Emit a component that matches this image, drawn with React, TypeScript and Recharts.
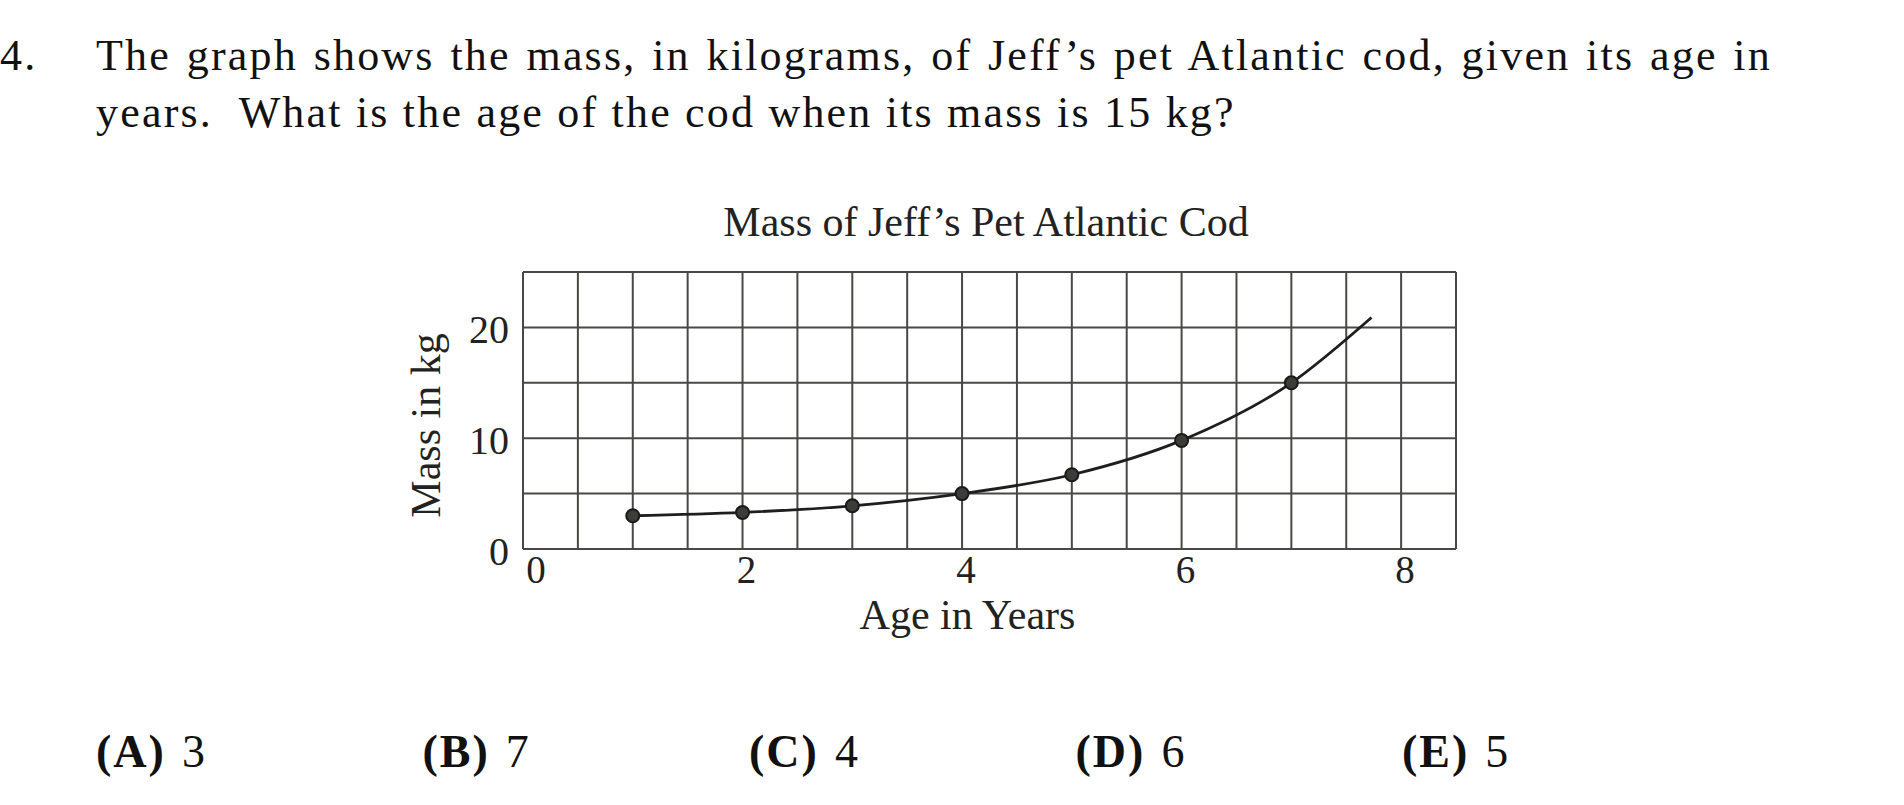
import React from "react";
import { LineChart, Line, XAxis, YAxis, CartesianGrid, Label } from "recharts";

// cod growth curve (last point = end of the drawn curve, no dot)
const ages = [1, 2, 3, 4, 5, 6, 7, 7.73];
const masses = [3.0, 3.3, 3.9, 5.0, 6.7, 9.8, 15, 20.9];
const DOT_COUNT = 7;

const xTicks = [0, 0.5, 1, 1.5, 2, 2.5, 3, 3.5, 4, 4.5, 5, 5.5, 6, 6.5, 7, 7.5, 8, 8.5];
const xLabels = [0, 2, 4, 6, 8];
const yTicks = [0, 5, 10, 15, 20, 25];
const yLabels = [0, 10, 20];

const answerLetters = ["A", "B", "C", "D", "E"];
const answerValues = ["3", "7", "4", "6", "5"];

const data = ages.map((age, i) => ({ age, mass: masses[i], marked: i < DOT_COUNT }));

const SERIF = "'Liberation Serif', 'Times New Roman', serif";
const GRID = "#484846";

function XTick(props: any) {
  const { x, y, payload } = props;
  if (!xLabels.includes(payload.value)) return <g />;
  const dx = payload.value === 0 ? 13 : 4;
  return (
    <text x={x + dx} y={y + 32} textAnchor="middle" fontSize={39} fontFamily={SERIF} fill="#222">
      {payload.value}
    </text>
  );
}

function YTick(props: any) {
  const { x, y, payload } = props;
  if (!yLabels.includes(payload.value)) return <g />;
  return (
    <text x={x - 12} y={y + 16} textAnchor="end" fontSize={40} fontFamily={SERIF} fill="#222">
      {payload.value}
    </text>
  );
}

function CodDot(props: any) {
  const { cx, cy, payload, index } = props;
  if (!payload.marked) return <g key={`d-${index}`} />;
  return <circle key={`d-${index}`} cx={cx} cy={cy} r={6.5} fill="#3b3d39" stroke="#1a1a1a" strokeWidth={2} />;
}

function CodChart() {
  return (
    <LineChart
      width={1140}
      height={470}
      data={data}
      margin={{ top: 92, right: 44, bottom: 41, left: 83 }}
    >
      <CartesianGrid stroke={GRID} strokeWidth={2} />
      <XAxis
        dataKey="age"
        type="number"
        domain={[0, 8.5]}
        ticks={xTicks}
        interval={0}
        height={60}
        axisLine={false}
        tickLine={false}
        tickSize={0}
        tick={<XTick />}
      >
        <Label
          content={(p: any) => {
            const vb = p.viewBox;
            return (
              <text x={vb.x + vb.width / 2 - 22} y={vb.y + 80} textAnchor="middle" fontSize={42} fontFamily={SERIF} fill="#222">
                Age in Years
              </text>
            );
          }}
        />
      </XAxis>
      <YAxis
        type="number"
        domain={[0, 25]}
        ticks={yTicks}
        interval={0}
        width={80}
        axisLine={false}
        tickLine={false}
        tickSize={0}
        tick={<YTick />}
      >
        <Label
          content={(p: any) => {
            const vb = p.viewBox;
            const lx = vb.x + vb.width - 83;
            const ly = vb.y + vb.height / 2 + 15;
            return (
              <text x={lx} y={ly} transform={`rotate(-90 ${lx} ${ly})`} textAnchor="middle" fontSize={42} fontFamily={SERIF} fill="#222">
                Mass in kg
              </text>
            );
          }}
        />
      </YAxis>
      <Line
        type="monotone"
        dataKey="mass"
        stroke="#1e1e1e"
        strokeWidth={2.8}
        dot={<CodDot />}
        activeDot={false}
        isAnimationActive={false}
      />
    </LineChart>
  );
}

const bodyText: React.CSSProperties = { position: "absolute", fontSize: 44, lineHeight: "57px", letterSpacing: 2.2, whiteSpace: "nowrap" };

export default function App() {
  return (
    <div style={{ position: "absolute", left: 0, top: 0, width: 1904, height: 805, background: "#fff", color: "#111", fontFamily: SERIF, overflow: "hidden" }}>
      <div style={{ ...bodyText, left: 0, top: 27 }}>4.</div>
      <div style={{ ...bodyText, left: 96, top: 27, width: 1676, whiteSpace: "normal", textAlign: "justify", textAlignLast: "justify" }}>
        The graph shows the mass, in kilograms, of Jeff’s pet Atlantic cod, given its age in
      </div>
      <div style={{ ...bodyText, left: 96, top: 84 }}>
        years.&nbsp; What is the age of the cod when its mass is 15 kg?
      </div>

      <div style={{ position: "absolute", left: 686, top: 201, width: 600, textAlign: "center", fontSize: 42, lineHeight: "42px", color: "#222" }}>
        Mass of Jeff’s Pet Atlantic Cod
      </div>
      <div style={{ position: "absolute", left: 360, top: 180 }}>
        <CodChart />
      </div>

      {answerLetters.map((letter, i) => (
        <div key={letter} style={{ position: "absolute", left: 96 + i * 326.5, top: 729, fontSize: 46, lineHeight: "46px", whiteSpace: "nowrap" }}>
          <b style={{ letterSpacing: 2 }}>({letter})</b>
          <span style={{ marginLeft: 16 }}>{answerValues[i]}</span>
        </div>
      ))}
    </div>
  );
}
